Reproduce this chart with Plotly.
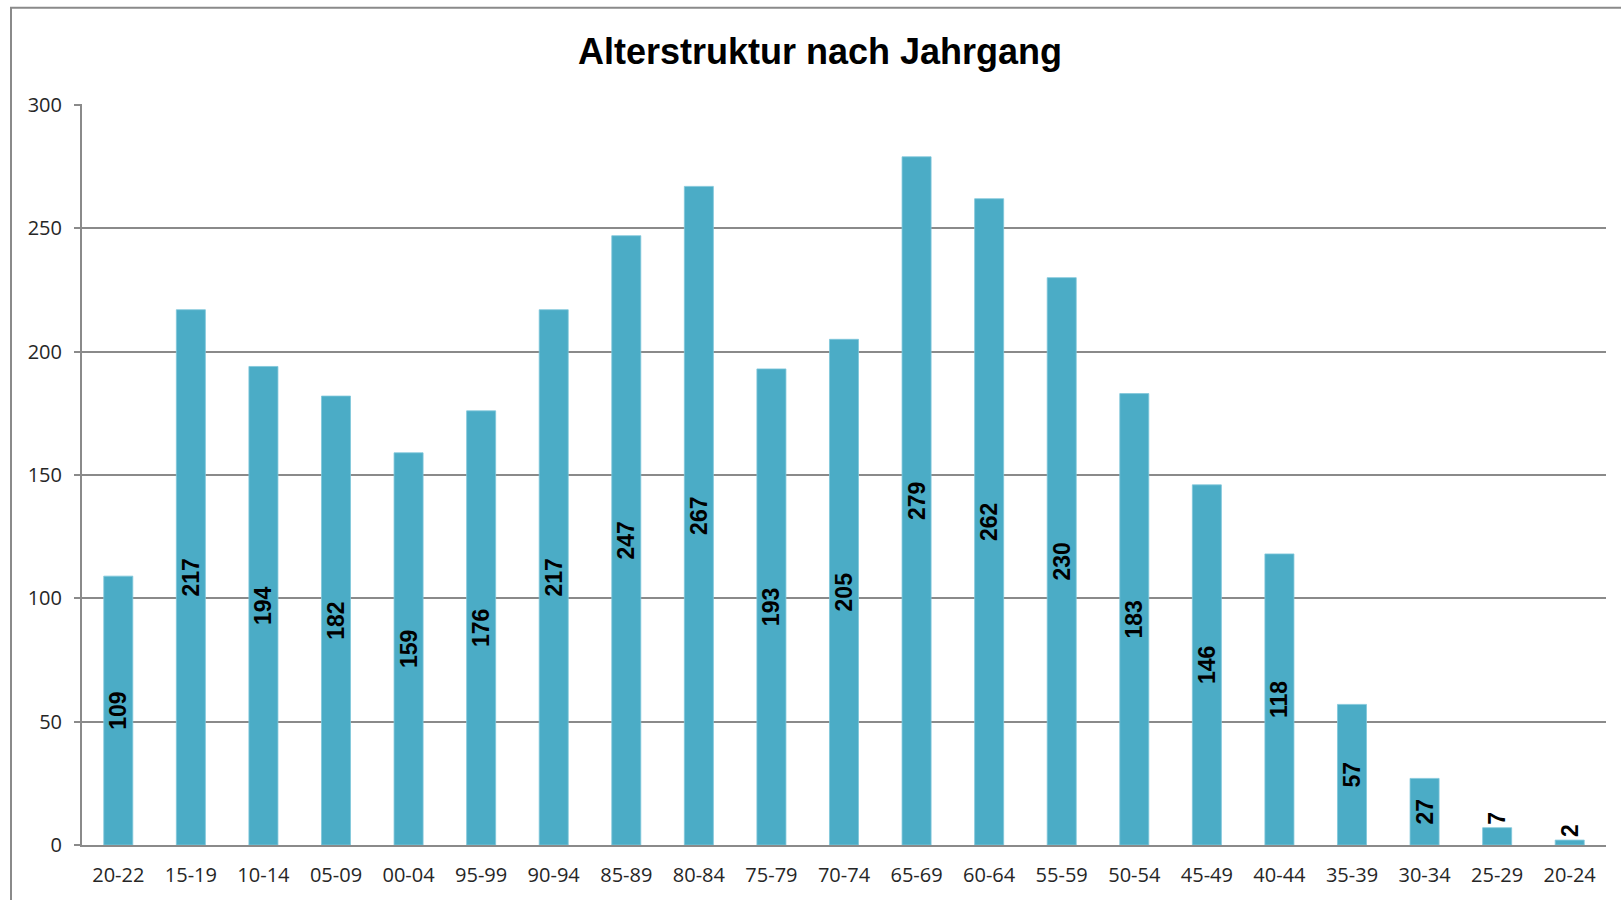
import plotly.graph_objects as go

categories = ["20-22", "15-19", "10-14", "05-09", "00-04", "95-99", "90-94", "85-89",
              "80-84", "75-79", "70-74", "65-69", "60-64", "55-59", "50-54", "45-49",
              "40-44", "35-39", "30-34", "25-29", "20-24"]
values = [109, 217, 194, 182, 159, 176, 217, 247, 267, 193, 205, 279, 262, 230, 183,
          146, 118, 57, 27, 7, 2]
y_ticks = [0, 50, 100, 150, 200, 250, 300]

W, H = 1621, 900
L, R, T, B = 82, 15, 104, 49
pw, ph = W - L - R, H - T - B

text_pos = ["inside" if v >= 20 else "outside" for v in values]

fig = go.Figure(go.Bar(
    x=categories, y=values,
    marker=dict(color="#4BACC6", line=dict(color="#7FC6DA", width=0.8)),
    text=[str(v) for v in values],
    textposition=text_pos,
    insidetextanchor="middle",
    textangle=-90,
    textfont=dict(family="Liberation Sans", size=23, color="black", weight="bold"),
    constraintext="none",
    cliponaxis=False,
))

fig.update_layout(
    width=W, height=H,
    margin=dict(l=L, r=R, t=T, b=B),
    paper_bgcolor="white", plot_bgcolor="white",
    bargap=0.6,
    showlegend=False,
    uniformtext=dict(minsize=8, mode="show"),
    title=dict(text="<b>Alterstruktur nach Jahrgang</b>",
               font=dict(family="Liberation Sans", size=36, color="black"),
               x=820 / W, xanchor="center", xref="container",
               y=1 - 51 / H, yanchor="middle", yref="container"),
    font=dict(family="Open Sans", color="#262626"),
)
fig.update_xaxes(
    type="category",
    showline=True, linecolor="#8A8A8A", linewidth=2,
    showgrid=False, ticks="",
    tickfont=dict(family="Open Sans", size=20, color="#262626"),
    ticklabelstandoff=11,
)
fig.update_yaxes(
    range=[0, 300.4], tickvals=y_ticks,
    showline=True, linecolor="#8A8A8A", linewidth=2,
    showgrid=True, gridcolor="#8A8A8A", gridwidth=2,
    ticks="outside", ticklen=6, tickcolor="#8A8A8A", tickwidth=2,
    tickfont=dict(family="Open Sans", size=20, color="#262626"),
    ticklabelstandoff=8,
    zeroline=False,
)

# outer chart-area border (extends past the right and bottom edges like the reference)
fig.add_shape(type="rect", xref="paper", yref="paper",
              x0=(11 - L) / pw, x1=(W + 10 - L) / pw,
              y0=(H - B - (H + 10)) / ph, y1=(H - B - 7) / ph,
              line=dict(color="#8A8A8A", width=2), fillcolor="rgba(0,0,0,0)",
              layer="below")

fig.write_html("out.html", config={"displayModeBar": False},
               post_script="document.body.style.margin='0';")
